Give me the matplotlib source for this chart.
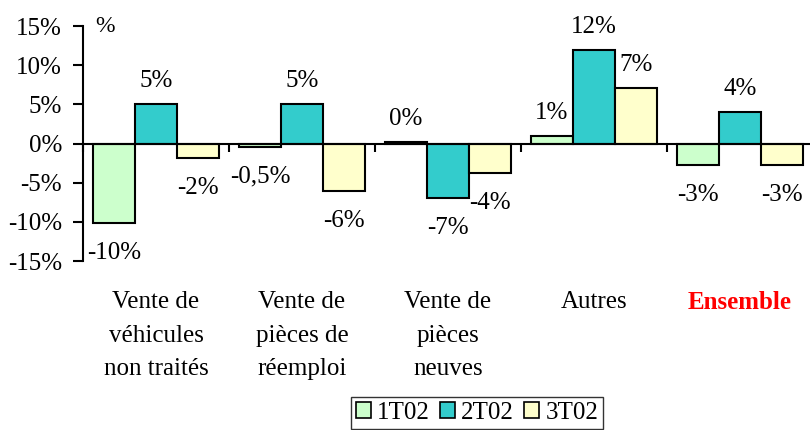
import numpy as np
import matplotlib.pyplot as plt
from matplotlib.patches import Patch

plt.rcParams['font.family'] = ['Liberation Serif', 'DejaVu Serif']

# Data
categories = ["Vente de\nvéhicules\nnon traités", "Vente de\npièces de\nréemploi",
              "Vente de\npièces\nneuves", "Autres", "Ensemble"]
series = ["1T02", "2T02", "3T02"]
v_1t02 = [-10.2, -0.4, 0.2, 1.0, -2.8]
v_2t02 = [5.0, 5.0, -6.9, 11.9, 4.0]
v_3t02 = [-1.9, -6.0, -3.8, 7.1, -2.8]
lab_1t02 = ["-10%", "-0,5%", "0%", "1%", "-3%"]
lab_2t02 = ["5%", "5%", "-7%", "12%", "4%"]
lab_3t02 = ["-2%", "-6%", "-4%", "7%", "-3%"]
colors = ["#ccffcc", "#33cccc", "#ffffcc"]

fig = plt.figure(figsize=(8.1, 4.3), dpi=100)
ax = fig.add_axes([0.1025, 0.393, 0.8975, 0.5465])

x = np.arange(len(categories))
w = 0.288
fs = 18

for i, (vals, labs) in enumerate([(v_1t02, lab_1t02), (v_2t02, lab_2t02), (v_3t02, lab_3t02)]):
    pos = x + (i - 1) * w
    ax.bar(pos, vals, width=w, color=colors[i], edgecolor='black', linewidth=1.5, zorder=2)
    for px, v, t in zip(pos, vals, labs):
        off = 23 if v >= 0 else -30
        ax.annotate(t, (px, v), xytext=(0, off), textcoords='offset pixels',
                    ha='center', va='center', fontsize=fs)

ax.set_xlim(-0.5, 4.48)
ax.set_ylim(-15, 15)
ax.set_yticks([-15, -10, -5, 0, 5, 10, 15])
ax.set_yticklabels(["-15%", "-10%", "-5%", "0%", "5%", "10%", "15%"], fontsize=fs)
ax.tick_params(axis='y', direction='out', length=7, width=1.5, pad=8)

# x axis on the zero line, ticks between categories
ax.spines['bottom'].set_position(('data', 0))
ax.spines['bottom'].set_linewidth(1.5)
ax.spines['left'].set_linewidth(1.5)
ax.spines['top'].set_visible(False)
ax.spines['right'].set_visible(False)
ax.set_xticks(np.arange(-0.5, 4.5, 1.0))
ax.set_xticklabels([])
ax.tick_params(axis='x', direction='out', length=6, width=1.5)

# category labels under the plot
for xi, c in zip(x, categories):
    if c == "Ensemble":
        ax.text(xi, -0.128, c, transform=ax.get_xaxis_transform(), ha='center', va='top',
                fontsize=fs, fontweight='bold', color='#ff0000')
    else:
        ax.text(xi, -0.128, c, transform=ax.get_xaxis_transform(), ha='center', va='top',
                fontsize=fs, linespacing=1.68)

ax.text(0.03, 1.0, "%", transform=ax.transAxes, ha='center', va='center', fontsize=fs - 1)

handles = [Patch(facecolor=c, edgecolor='black', linewidth=1.2) for c in colors]
leg = fig.legend(handles, series, loc='center', bbox_to_anchor=(0.589, 0.04),
                 ncol=3, fontsize=fs, frameon=True, fancybox=False,
                 handlelength=0.6, handleheight=0.6, handletextpad=0.25,
                 columnspacing=0.4, borderpad=0.2, borderaxespad=0)
leg.get_frame().set_edgecolor('black')
leg.get_frame().set_linewidth(1.0)

fig.savefig("out.png", dpi=100)
